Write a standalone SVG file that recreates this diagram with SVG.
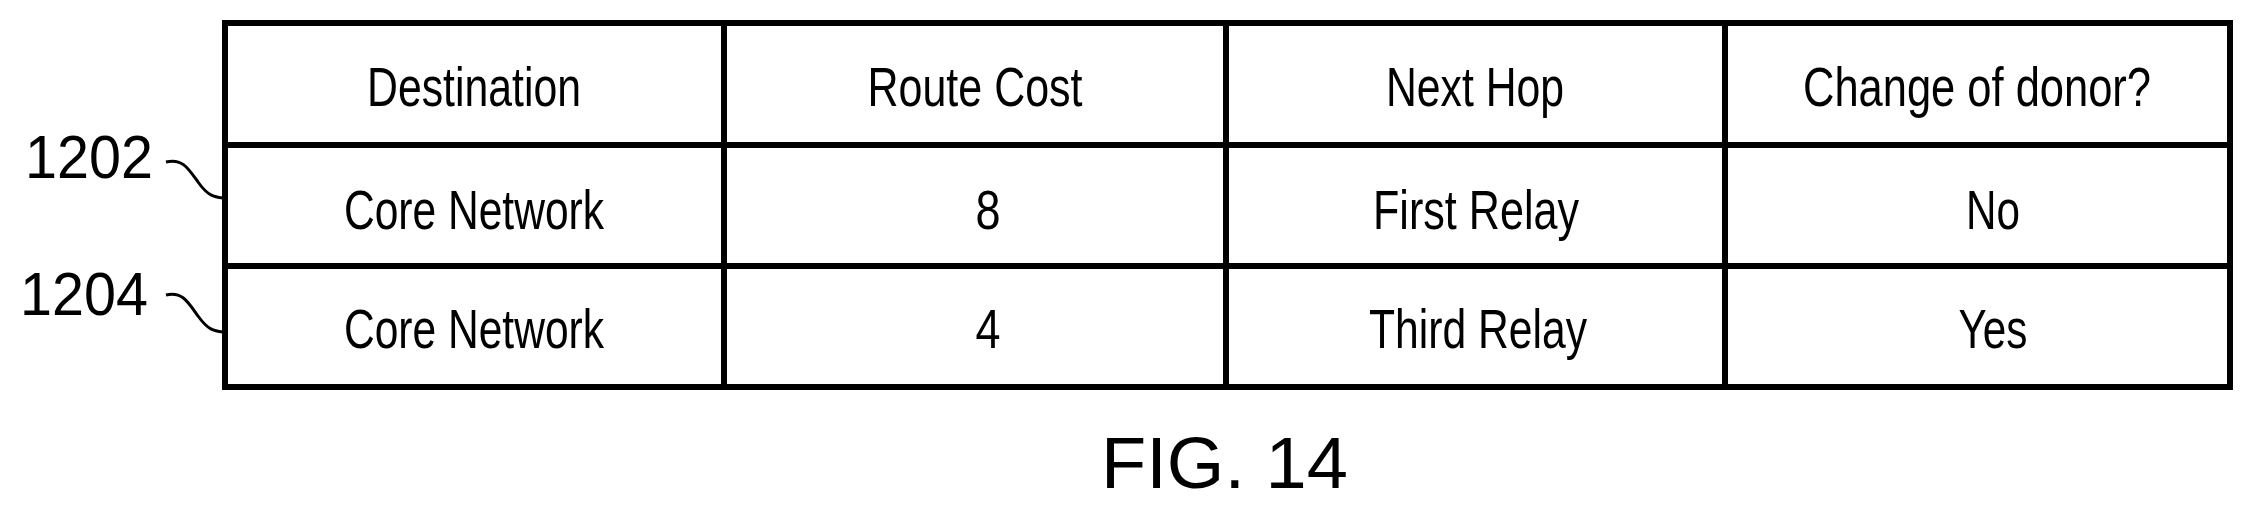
<svg xmlns="http://www.w3.org/2000/svg" width="2249" height="509" viewBox="0 0 2249 509">
<style>
.t{font-family:"Liberation Sans",Arial,sans-serif;font-size:56px;fill:#000;text-anchor:middle}
.l{font-family:"Liberation Sans",Arial,sans-serif;font-size:62px;fill:#000}
.g{stroke:#000;stroke-width:6;fill:none}
.c{stroke:#000;stroke-width:3;fill:none}
</style>
<rect width="2249" height="509" fill="#fff"/>
<g id="table">
<rect class="g" x="225" y="23" width="2005" height="364"/>
<path class="g" d="M225 145H2230M225 266H2230M724 23V387M1226 23V387M1725 23V387"/>
</g>
<g id="header">
<text class="t" x="474" y="106" textLength="214" lengthAdjust="spacingAndGlyphs">Destination</text>
<text class="t" x="975" y="106" textLength="215" lengthAdjust="spacingAndGlyphs">Route Cost</text>
<text class="t" x="1475" y="106" textLength="178" lengthAdjust="spacingAndGlyphs">Next Hop</text>
<text class="t" x="1977" y="106" textLength="348" lengthAdjust="spacingAndGlyphs">Change of donor?</text>
</g>
<g id="row1202">
<text class="t" x="474" y="229" textLength="260" lengthAdjust="spacingAndGlyphs">Core Network</text>
<text class="t" x="988" y="229" textLength="25" lengthAdjust="spacingAndGlyphs">8</text>
<text class="t" x="1476" y="229" textLength="206" lengthAdjust="spacingAndGlyphs">First Relay</text>
<text class="t" x="1993" y="229" textLength="54" lengthAdjust="spacingAndGlyphs">No</text>
</g>
<g id="row1204">
<text class="t" x="474" y="348" textLength="260" lengthAdjust="spacingAndGlyphs">Core Network</text>
<text class="t" x="988" y="348" textLength="25" lengthAdjust="spacingAndGlyphs">4</text>
<text class="t" x="1478" y="348" textLength="218" lengthAdjust="spacingAndGlyphs">Third Relay</text>
<text class="t" x="1993" y="348" textLength="69" lengthAdjust="spacingAndGlyphs">Yes</text>
</g>
<g id="label1202"><text class="l" x="25" y="178" textLength="128" lengthAdjust="spacingAndGlyphs">1202</text></g>
<g id="label1204"><text class="l" x="20" y="315" textLength="128" lengthAdjust="spacingAndGlyphs">1204</text></g>
<g id="connectors">
<path class="c" d="M166 162C182 158 188 168 198 182C208 196 214 197 223 198"/>
<path class="c" d="M166 295C182 291 188 302 198 316C208 330 214 331 223 332"/>
</g>
<text x="1101" y="488" font-family="Liberation Sans,Arial,sans-serif" font-size="72" textLength="247" lengthAdjust="spacingAndGlyphs">FIG. 14</text>
</svg>
